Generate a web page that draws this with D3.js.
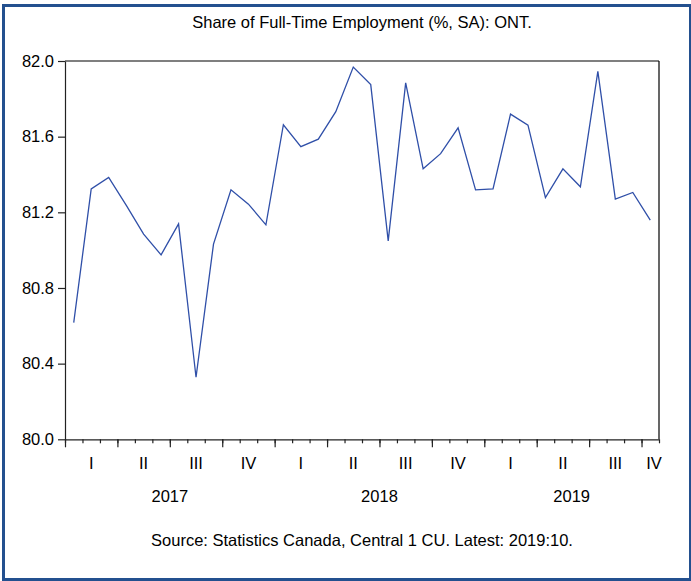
<!DOCTYPE html>
<html>
<head>
<meta charset="utf-8">
<script src="https://cdn.jsdelivr.net/npm/d3@7"></script>
<style>
  html, body { margin: 0; padding: 0; background: #fff; }
  svg { display: block; }
  text { font-family: "Liberation Sans", Arial, sans-serif; fill: #000; }
</style>
</head>
<body>
<svg id="chart" width="691" height="581"></svg>
<script>
// ---- Data ----
const title = "Share of Full-Time Employment (%, SA): ONT.";
const source = "Source: Statistics Canada, Central 1 CU. Latest: 2019:10.";
const months = [
  "2017-01","2017-02","2017-03","2017-04","2017-05","2017-06","2017-07","2017-08","2017-09","2017-10","2017-11","2017-12",
  "2018-01","2018-02","2018-03","2018-04","2018-05","2018-06","2018-07","2018-08","2018-09","2018-10","2018-11","2018-12",
  "2019-01","2019-02","2019-03","2019-04","2019-05","2019-06","2019-07","2019-08","2019-09","2019-10"
];
const values = [
  80.617, 81.324, 81.384, 81.238, 81.085, 80.975, 81.139, 80.328, 81.032, 81.319, 81.243, 81.134,
  81.663, 81.547, 81.587, 81.732, 81.968, 81.875, 81.049, 81.884, 81.430, 81.510, 81.647, 81.319,
  81.324, 81.719, 81.661, 81.278, 81.430, 81.335, 81.945, 81.270, 81.305, 81.159
];
const yTicks = [80.0, 80.4, 80.8, 81.2, 81.6, 82.0];
const quarterLabels = ["I","II","III","IV","I","II","III","IV","I","II","III","IV"];
const yearLabels = ["2017","2018","2019"];

// ---- Layout ----
const svg = d3.select("#chart");
const mLeft = 65, mRight = 659, mTop = 61, mBottom = 439.3;
const fs = "16.5px";

const x = d3.scaleLinear().domain([0, months.length]).range([mLeft, mRight]);
const y = d3.scaleLinear().domain([80, 82]).range([mBottom, mTop]);

// outer frame
svg.append("rect")
  .attr("x", 3.5).attr("y", 5.5)
  .attr("width", 687).attr("height", 574)
  .attr("fill", "none")
  .attr("stroke", "#23508f")
  .attr("stroke-width", 3);

// title
svg.append("text")
  .attr("x", (mLeft + mRight) / 2).attr("y", 27.5)
  .attr("text-anchor", "middle")
  .style("font-size", fs)
  .text(title);

// plot frame top & right
svg.append("line").attr("x1", mLeft).attr("x2", mRight).attr("y1", mTop).attr("y2", mTop)
  .attr("stroke", "#000").attr("stroke-width", 1.2);
svg.append("line").attr("x1", mRight).attr("x2", mRight).attr("y1", mTop).attr("y2", mBottom)
  .attr("stroke", "#000").attr("stroke-width", 1.2);

// left axis
const yAxis = d3.axisLeft(y).tickValues(yTicks).tickFormat(d3.format(".1f"))
  .tickSize(7).tickSizeOuter(0).tickPadding(4);
const gy = svg.append("g").attr("transform", `translate(${mLeft},0)`).call(yAxis);
gy.selectAll("text").style("font-size", fs).attr("fill", "#000");
gy.selectAll("line, path").attr("stroke", "#222").attr("stroke-width", 1.2);

// bottom axis: minor (month) ticks
const monthBounds = d3.range(0, months.length + 1);
const xMinor = d3.axisBottom(x).tickValues(monthBounds).tickFormat("").tickSize(4).tickSizeOuter(0);
const gxm = svg.append("g").attr("transform", `translate(0,${mBottom})`).call(xMinor);
gxm.selectAll("line, path").attr("stroke", "#222").attr("stroke-width", 1.2);

// major (quarter) ticks
const quarterBounds = d3.range(0, months.length + 1, 3);
const xMajor = d3.axisBottom(x).tickValues(quarterBounds).tickFormat("").tickSize(8).tickSizeOuter(0);
const gxM = svg.append("g").attr("transform", `translate(0,${mBottom})`).call(xMajor);
gxM.select("path").remove();
gxM.selectAll("line").attr("stroke", "#222").attr("stroke-width", 1.2);

// quarter labels
svg.append("g").selectAll("text").data(quarterLabels).join("text")
  .attr("x", (d, i) => {
    const a = i * 3, b = Math.min(i * 3 + 3, months.length);
    return i === quarterLabels.length - 1 ? x(b) - 5 : x((a + b) / 2);
  })
  .attr("y", 469)
  .attr("text-anchor", "middle")
  .style("font-size", fs)
  .text(d => d);

// year labels
svg.append("g").selectAll("text").data(yearLabels).join("text")
  .attr("x", (d, i) => x((i * 12 + Math.min(i * 12 + 12, months.length)) / 2))
  .attr("y", 502)
  .attr("text-anchor", "middle")
  .style("font-size", fs)
  .text(d => d);

// line
const line = d3.line().x((d, i) => x(i + 0.5)).y(d => y(d));
svg.append("path").datum(values)
  .attr("d", line)
  .attr("fill", "none")
  .attr("stroke", "#2f4fa8")
  .attr("stroke-width", 1.3);

// source
svg.append("text")
  .attr("x", (mLeft + mRight) / 2).attr("y", 546)
  .attr("text-anchor", "middle")
  .style("font-size", fs)
  .text(source);
</script>
</body>
</html>
